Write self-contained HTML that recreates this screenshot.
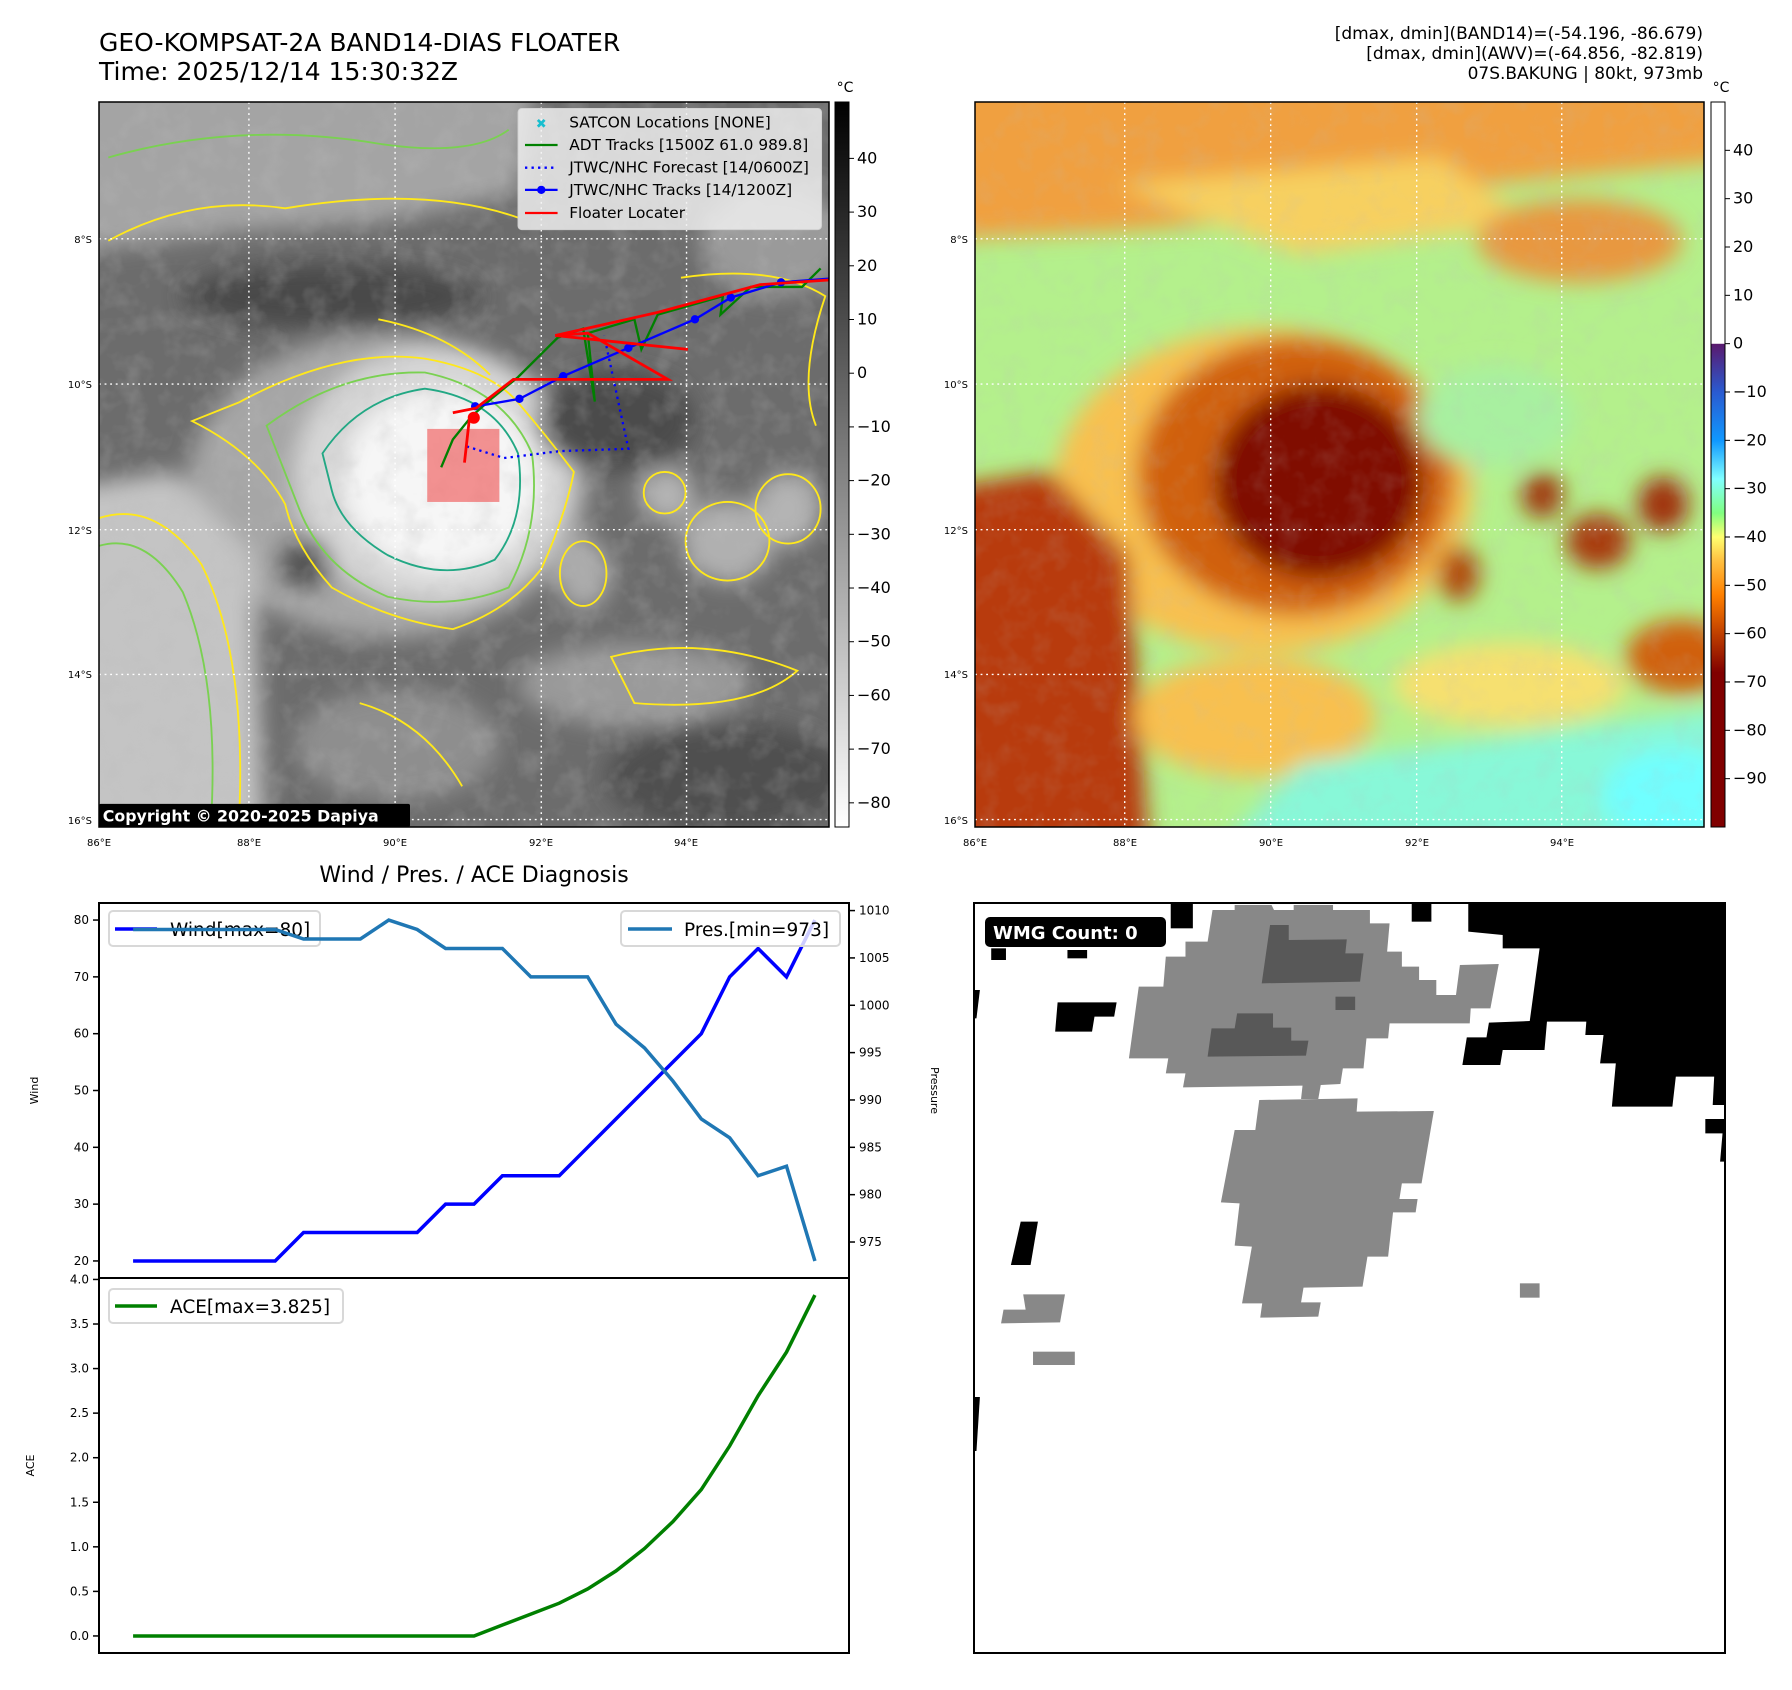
<!DOCTYPE html>
<html><head><meta charset="utf-8">
<style>
html,body{margin:0;padding:0;background:#fff;}
svg{display:block;font-family:"DejaVu Sans","Liberation Sans",sans-serif;}
</style></head>
<body>
<svg id="root" xmlns="http://www.w3.org/2000/svg" width="1792" height="1690" viewBox="0 0 1792 1690">
<defs>
  <filter id="blur" x="-30%" y="-30%" width="160%" height="160%"><feGaussianBlur stdDeviation="24"/></filter>
  <filter id="noise" x="0" y="0" width="100%" height="100%">
    <feTurbulence type="fractalNoise" baseFrequency="0.02" numOctaves="3" seed="4"/>
    <feColorMatrix type="matrix" values="0 0 0 0 0.5  0 0 0 0 0.5  0 0 0 0 0.5  0 0 0 1.6 -0.7"/>
  </filter>
  <clipPath id="clipL"><rect x="0" y="0" width="1568" height="1568"/></clipPath>
  <linearGradient id="cbGray" x1="0" y1="0" x2="0" y2="1">
    <stop offset="0" stop-color="#000"/><stop offset="1" stop-color="#fff"/>
  </linearGradient>
  <linearGradient id="cbColor" x1="0" y1="0" x2="0" y2="1">
    <stop offset="0" stop-color="#fff"/><stop offset="0.333" stop-color="#fff"/>
    <stop offset="0.334" stop-color="#5a1a6e"/><stop offset="0.40" stop-color="#2a5ad0"/>
    <stop offset="0.467" stop-color="#1098ff"/><stop offset="0.52" stop-color="#80ffff"/>
    <stop offset="0.567" stop-color="#80ff80"/><stop offset="0.60" stop-color="#ffff70"/>
    <stop offset="0.633" stop-color="#ffc040"/><stop offset="0.68" stop-color="#ff8000"/>
    <stop offset="0.733" stop-color="#c04000"/><stop offset="0.787" stop-color="#800000"/>
    <stop offset="1" stop-color="#800000"/>
  </linearGradient>
</defs>

<!-- titles -->
<text x="99" y="51" font-size="25" fill="#000">GEO-KOMPSAT-2A BAND14-DIAS FLOATER</text>
<text x="99" y="80" font-size="25" fill="#000">Time: 2025/12/14 15:30:32Z</text>
<g font-size="17" text-anchor="end" fill="#000">
  <text x="1703" y="39">[dmax, dmin](BAND14)=(-54.196, -86.679)</text>
  <text x="1703" y="59">[dmax, dmin](AWV)=(-64.856, -82.819)</text>
  <text x="1703" y="79">07S.BAKUNG | 80kt, 973mb</text>
</g>

<!-- LEFT MAP -->
<g>
<svg x="99" y="102" width="730" height="725" viewBox="0 0 1568 1568" preserveAspectRatio="none">
  <rect width="1568" height="1568" fill="#6c6c6c"/>
  <g filter="url(#blur)" clip-path="url(#clipL)">
    <path d="M-100,-100 L950,-100 L900,200 L600,260 L300,280 L-100,330 Z" fill="#a4a4a4"/>
    <ellipse cx="500" cy="420" rx="320" ry="70" fill="#4a4a4a"/>
    <ellipse cx="620" cy="830" rx="430" ry="330" fill="#a6a6a6"/>
    <path d="M-100,840 L160,800 L330,980 L360,1700 L-100,1700 Z" fill="#c4c4c4"/>
    <ellipse cx="720" cy="810" rx="300" ry="280" fill="#d6d6d6"/>
    <ellipse cx="735" cy="820" rx="210" ry="195" fill="#f6f6f6"/>
    <ellipse cx="1110" cy="690" rx="170" ry="110" fill="#4c4c4c"/>
    <ellipse cx="1220" cy="850" rx="60" ry="60" fill="#b4b4b4"/>
    <ellipse cx="1350" cy="950" rx="100" ry="90" fill="#b0b0b0"/>
    <ellipse cx="1480" cy="880" rx="70" ry="80" fill="#b4b4b4"/>
    <ellipse cx="1040" cy="1020" rx="60" ry="80" fill="#acacac"/>
    <ellipse cx="1150" cy="1260" rx="250" ry="90" fill="#9a9a9a"/>
    <ellipse cx="640" cy="1390" rx="220" ry="120" fill="#8e8e8e"/>
    <ellipse cx="1350" cy="1460" rx="260" ry="120" fill="#505050"/>
    <ellipse cx="440" cy="1000" rx="60" ry="60" fill="#555"/>
    <ellipse cx="1450" cy="300" rx="160" ry="120" fill="#9a9a9a"/>
  </g>
  <rect width="1568" height="1568" filter="url(#noise)" opacity="0.35"/>
  <g fill="none" stroke-width="4">
    <path d="M300,650 Q520,530 700,555 Q840,580 900,650 Q960,720 1020,800 Q1000,900 950,1010 Q880,1100 760,1140 Q620,1120 500,1050 Q420,960 400,870 Q340,760 200,690 Z" stroke="#ffe81a"/>
    <path d="M360,700 Q520,580 700,585 Q870,620 930,760 Q950,920 880,1050 Q760,1100 620,1070 Q480,1010 430,880 Z" stroke="#7ad151"/>
    <path d="M480,760 Q560,640 700,620 Q850,640 900,760 Q920,900 850,990 Q740,1040 620,980 Q520,920 500,840 Z" stroke="#22a884"/>
    <path d="M0,900 Q120,860 220,1000 Q320,1200 300,1568" stroke="#ffe81a"/>
    <path d="M0,960 Q100,930 180,1060 Q260,1250 240,1568" stroke="#7ad151"/>
    <path d="M20,300 Q200,200 400,230 Q700,180 900,250" stroke="#ffe81a"/>
    <path d="M20,120 Q300,40 600,90 Q800,120 880,60" stroke="#7ad151"/>
    <path d="M600,470 Q750,500 840,590" stroke="#ffe81a"/>
    <ellipse cx="1215" cy="845" rx="45" ry="45" stroke="#ffe81a"/>
    <ellipse cx="1350" cy="950" rx="90" ry="85" stroke="#ffe81a"/>
    <ellipse cx="1480" cy="880" rx="70" ry="75" stroke="#ffe81a"/>
    <ellipse cx="1040" cy="1020" rx="50" ry="70" stroke="#ffe81a"/>
    <path d="M1100,1200 Q1300,1150 1500,1230 Q1400,1320 1150,1300 Z" stroke="#ffe81a"/>
    <path d="M560,1300 Q700,1340 780,1480" stroke="#ffe81a"/>
    <path d="M1250,380 Q1450,350 1560,420 Q1500,600 1540,700" stroke="#ffe81a"/>
  </g>
  <g stroke="#fff" stroke-width="3" stroke-dasharray="4 8">
    <line x1="322" y1="0" x2="322" y2="1568"/><line x1="636" y1="0" x2="636" y2="1568"/>
    <line x1="950" y1="0" x2="950" y2="1568"/><line x1="1262" y1="0" x2="1262" y2="1568"/>
    <line x1="0" y1="296" x2="1568" y2="296"/><line x1="0" y1="610" x2="1568" y2="610"/>
    <line x1="0" y1="925" x2="1568" y2="925"/><line x1="0" y1="1238" x2="1568" y2="1238"/>
    <line x1="0" y1="1552" x2="1568" y2="1552"/>
  </g>
  <rect x="705" y="707" width="155" height="158" fill="#f06a6a" fill-opacity="0.72"/>
  <polyline points="735,790 760,730 800,680 845,640 900,595 985,510 1040,490 1065,648 1050,500 1150,470 1165,535 1200,460 1340,420 1335,460 1400,400 1510,400 1550,360" fill="none" stroke="#008000" stroke-width="5"/>
  <polyline points="790,745 870,770 990,755 1137,750 1085,505" fill="none" stroke="#0000ff" stroke-width="5" stroke-dasharray="5 9"/>
  <g>
    <polyline points="800,660 903,642 997,593 1137,532 1280,470 1357,423 1465,390 1568,382" fill="none" stroke="#0000ff" stroke-width="5"/>
    <g fill="#0000ff"><circle cx="903" cy="642" r="9"/><circle cx="997" cy="593" r="9"/><circle cx="1137" cy="532" r="9"/><circle cx="1280" cy="470" r="9"/><circle cx="1357" cy="423" r="9"/><circle cx="1465" cy="390" r="9"/><circle cx="808" cy="658" r="9"/></g>
  </g>
  <g fill="none" stroke="#ff0000" stroke-width="6">
    <polyline points="760,672 810,662 890,600 1222,600 1050,500 980,505 1265,535"/>
    <polyline points="980,505 1200,455 1420,395 1568,385"/>
    <polyline points="785,780 795,690 815,675"/>
    <circle cx="805" cy="683" r="10" fill="#ff0000"/>
  </g>
  <g>
    <rect x="900" y="14" width="652" height="262" rx="8" fill="#f2f2f2" fill-opacity="0.82" stroke="#d0d0d0" stroke-width="2"/>
    <g font-size="33" fill="#000">
      <text x="1010" y="55">SATCON Locations [NONE]</text>
      <text x="1010" y="104">ADT Tracks [1500Z 61.0 989.8]</text>
      <text x="1010" y="153">JTWC/NHC Forecast [14/0600Z]</text>
      <text x="1010" y="201">JTWC/NHC Tracks [14/1200Z]</text>
      <text x="1010" y="251">Floater Locater</text>
    </g>
    <text x="950" y="56" font-size="28" fill="#17becf" text-anchor="middle" font-weight="bold">✖</text>
    <line x1="915" y1="93" x2="985" y2="93" stroke="#008000" stroke-width="5"/>
    <line x1="915" y1="142" x2="985" y2="142" stroke="#0000ff" stroke-width="5" stroke-dasharray="5 9"/>
    <line x1="915" y1="190" x2="985" y2="190" stroke="#0000ff" stroke-width="5"/><circle cx="950" cy="190" r="9" fill="#0000ff"/>
    <line x1="915" y1="240" x2="985" y2="240" stroke="#ff0000" stroke-width="5"/>
  </g>
  <rect x="0" y="1518" width="668" height="50" fill="#000" rx="4"/>
  <text x="8" y="1556" font-size="34" font-weight="bold" fill="#fff">Copyright © 2020-2025 Dapiya</text>
</svg>
<rect x="99" y="102" width="730" height="725" fill="none" stroke="#000" stroke-width="1.5"/>
</g>

<!-- RIGHT MAP -->
<g>
<svg x="975" y="102" width="729" height="725" viewBox="0 0 1568 1568" preserveAspectRatio="none">
  <rect width="1568" height="1568" fill="#b4f08c"/>
  <g filter="url(#blur)" clip-path="url(#clipL)">
    <path d="M-100,-100 L1700,-100 L1700,120 L1100,180 L800,240 L300,280 L-100,300 Z" fill="#f0a040"/>
    <path d="M300,180 L1000,120 L1200,260 L700,330 Z" fill="#f7d060"/>
    <ellipse cx="1300" cy="300" rx="220" ry="90" fill="#e89840"/>
    <ellipse cx="620" cy="840" rx="450" ry="350" fill="#f8c050"/>
    <path d="M-100,840 L160,800 L330,980 L380,1700 L-100,1700 Z" fill="#b83a08"/>
    <ellipse cx="690" cy="810" rx="340" ry="300" fill="#d06010"/>
    <ellipse cx="740" cy="820" rx="225" ry="210" fill="#800800"/>
    <ellipse cx="1120" cy="680" rx="170" ry="110" fill="#a8f0a0"/>
    <ellipse cx="1220" cy="850" rx="45" ry="50" fill="#a03808"/>
    <ellipse cx="1340" cy="950" rx="70" ry="60" fill="#a83a08"/>
    <ellipse cx="1480" cy="870" rx="55" ry="60" fill="#a03008"/>
    <ellipse cx="1040" cy="1020" rx="45" ry="60" fill="#b04810"/>
    <ellipse cx="1150" cy="1260" rx="250" ry="90" fill="#f6e070"/>
    <ellipse cx="600" cy="1330" rx="260" ry="130" fill="#f8c050"/>
    <path d="M450,1700 L700,1430 L1100,1380 L1700,1300 L1700,1700 Z" fill="#88f8d8"/>
    <ellipse cx="1500" cy="1500" rx="150" ry="100" fill="#70ffff"/>
    <ellipse cx="1520" cy="1200" rx="120" ry="80" fill="#d06010"/>
  </g>
  <rect width="1568" height="1568" filter="url(#noise)" opacity="0.2"/>
  <g stroke="#fff" stroke-width="3" stroke-dasharray="4 8">
    <line x1="322" y1="0" x2="322" y2="1568"/><line x1="636" y1="0" x2="636" y2="1568"/>
    <line x1="950" y1="0" x2="950" y2="1568"/><line x1="1262" y1="0" x2="1262" y2="1568"/>
    <line x1="0" y1="296" x2="1568" y2="296"/><line x1="0" y1="610" x2="1568" y2="610"/>
    <line x1="0" y1="925" x2="1568" y2="925"/><line x1="0" y1="1238" x2="1568" y2="1238"/>
    <line x1="0" y1="1552" x2="1568" y2="1552"/>
  </g>
</svg>
<rect x="975" y="102" width="729" height="725" fill="none" stroke="#000" stroke-width="1.5"/>
</g>

<!-- colorbars -->
<g>
  <rect x="835" y="102" width="14" height="725" fill="url(#cbGray)" stroke="#000" stroke-width="1"/>
  <text x="845" y="92" font-size="14" text-anchor="middle">°C</text>
  <g id="cbLticks" font-size="16"></g>
</g>
<g>
  <rect x="1711" y="102" width="14" height="725" fill="url(#cbColor)" stroke="#000" stroke-width="1"/>
  <text x="1721" y="92" font-size="14" text-anchor="middle">°C</text>
  <g id="cbRticks" font-size="16"></g>
</g>
<g id="mapticks" font-size="10" fill="#000"></g>

<!-- charts -->
<text x="474" y="882" font-size="22" text-anchor="middle">Wind / Pres. / ACE Diagnosis</text>
<g id="charts"></g>

<!-- WMG -->
<g>
<svg x="974" y="903" width="751" height="750" viewBox="10 24 1527 2250" preserveAspectRatio="none">
  <rect x="10" y="24" width="1527" height="2250" fill="#fff"/>
  <polygon fill="#000" points="1015,24 1537,24 1537,630 1512,630 1515,545 1437,545 1430,635 1307,635 1315,505 1283,505 1290,420 1253,420 1255,380 1175,380 1170,465 1085,465 1080,510 1003,510 1012,427 1052,427 1057,383 1140,378 1160,160 1085,160 1085,120 1015,110"/>
  <polygon fill="#000" points="1497,672 1537,672 1537,800 1527,800 1532,715 1497,715"/>
  <g fill="#000">
    <rect x="900" y="24" width="40" height="56"/><rect x="410" y="24" width="45" height="76"/>
    <rect x="45" y="160" width="30" height="35"/><rect x="200" y="165" width="40" height="25"/>
    <polygon points="180,322 300,322 295,365 255,365 250,410 175,410"/>
    <polygon points="105,980 140,980 125,1110 85,1110"/>
    <polygon points="10,285 22,285 15,370 10,370"/>
    <polygon points="10,1506 22,1506 15,1668 10,1668"/>
  </g>
  <polygon fill="#888" points="540,30 615,30 620,45 660,45 660,30 740,30 740,45 815,45 815,85 855,85 850,170 880,170 880,215 915,215 915,255 950,255 950,300 990,300 998,210 1077,207 1060,340 1020,340 1018,385 855,385 852,430 808,430 802,520 760,520 755,567 715,570 710,612 675,612 678,572 435,577 440,535 400,535 405,490 325,490 345,275 395,275 400,185 440,185 440,140 485,140 495,45 540,45"/>
  <polygon fill="#888" points="590,615 790,610 788,650 945,648 920,865 880,865 875,912 912,912 908,952 862,952 852,1085 810,1085 800,1175 680,1178 675,1222 715,1222 710,1265 592,1268 596,1225 555,1225 575,1055 540,1052 550,925 512,922 540,705 582,705"/>
  <polygon fill="#585858" points="612,90 650,90 650,135 768,133 765,175 802,175 795,260 595,265"/>
  <polygon fill="#585858" points="545,355 618,355 618,398 655,398 655,437 690,437 685,482 485,485 493,400 540,400"/>
  <rect x="745" y="305" width="40" height="40" fill="#585858"/>
  <rect x="1120" y="1165" width="40" height="43" fill="#888"/>
  <polygon fill="#888" points="110,1198 195,1198 185,1282 65,1285 70,1244 115,1244"/>
  <rect x="130" y="1370" width="85" height="40" fill="#888"/>
</svg>
<rect x="974" y="903" width="751" height="750" fill="none" stroke="#000" stroke-width="2"/>
<rect x="985" y="917" width="181" height="30" rx="5" fill="#000"/>
<text x="993" y="939" font-size="18" font-weight="bold" fill="#fff">WMG Count: 0</text>
</g>
</svg>

<script>
// ---- chart data ----
const windValues = [20,20,20,20,20,20,25,25,25,25,25,30,30,35,35,35,40,45,50,55,60,70,75,70,80];
const pressureValues = [1008,1008,1008,1008,1008,1008,1007,1007,1007,1009,1008,1006,1006,1006,1003,1003,1003,998,995.5,992,988,986,982,983,973];
const aceValues = [0,0,0,0,0,0,0,0,0,0,0,0,0,0.1225,0.245,0.3675,0.5275,0.73,0.98,1.2825,1.6425,2.1325,2.695,3.185,3.825];
const windTicks = [20,30,40,50,60,70,80];
const pressureTicks = [975,980,985,990,995,1000,1005,1010];
const aceTicks = ["0.0","0.5","1.0","1.5","2.0","2.5","3.0","3.5","4.0"];
const irColorbarTicks = [40,30,20,10,0,-10,-20,-30,-40,-50,-60,-70,-80];
const awvColorbarTicks = [40,30,20,10,0,-10,-20,-30,-40,-50,-60,-70,-80,-90];
const lonLabels = ["86°E","88°E","90°E","92°E","94°E"];
const latLabels = ["8°S","10°S","12°S","14°S","16°S"];

const NS = "http://www.w3.org/2000/svg";
function mk(tag, attrs, parent){const e=document.createElementNS(NS,tag);for(const k in attrs)e.setAttribute(k,attrs[k]);parent.appendChild(e);return e;}
function minus(v){return String(v).replace("-","\u2212");}

const AX = {x0:99, x1:849};
const WIN = {y0:903, y1:1278};
const ACEB = {y0:1278, y1:1653};
function range(arr){const mn=Math.min(...arr),mx=Math.max(...arr),p=(mx-mn)*0.05;return [mn-p,mx+p];}
const n = windValues.length;
function xs(i){const lo=-(n-1)*0.05, hi=(n-1)*1.05;return AX.x0+(i-lo)/(hi-lo)*(AX.x1-AX.x0);}
const wr = range(windValues), pr = range(pressureValues), ar = range(aceValues);
function yW(v){return WIN.y1-(v-wr[0])/(wr[1]-wr[0])*(WIN.y1-WIN.y0);}
function yP(v){return WIN.y1-(v-pr[0])/(pr[1]-pr[0])*(WIN.y1-WIN.y0);}
function yA(v){return ACEB.y1-(v-ar[0])/(ar[1]-ar[0])*(ACEB.y1-ACEB.y0);}

const charts = document.getElementById("charts");
const wg = mk("g",{},charts);


const pl = mk("polyline",{points:pressureValues.map((v,i)=>xs(i)+","+yP(v)).join(" "),fill:"none",stroke:"#1f77b4","stroke-width":3.5},wg);


const wl = mk("polyline",{points:windValues.map((v,i)=>xs(i)+","+yW(v)).join(" "),fill:"none",stroke:"#0000ff","stroke-width":3.5},wg);


mk("rect",{x:AX.x0,y:WIN.y0,width:AX.x1-AX.x0,height:WIN.y1-WIN.y0,fill:"none",stroke:"#000","stroke-width":2},wg);
windTicks.forEach(t=>{const y=yW(t);mk("line",{x1:AX.x0-6,x2:AX.x0,y1:y,y2:y,stroke:"#000","stroke-width":1.5},wg);
  const tx=mk("text",{x:AX.x0-10,y:y+4,"font-size":12,"text-anchor":"end"},wg);tx.textContent=t;
  
  });
pressureTicks.forEach(t=>{const y=yP(t);mk("line",{x1:AX.x1,x2:AX.x1+6,y1:y,y2:y,stroke:"#000","stroke-width":1.5},wg);
  const tx=mk("text",{x:AX.x1+10,y:y+4,"font-size":12},wg);tx.textContent=t;
  
  });
const wlab = mk("text",{x:38,y:(WIN.y0+WIN.y1)/2,"font-size":11,"text-anchor":"middle",transform:`rotate(-90 38 ${(WIN.y0+WIN.y1)/2})`},wg);wlab.textContent="Wind";


const plab = mk("text",{x:931,y:(WIN.y0+WIN.y1)/2,"font-size":11,"text-anchor":"middle",transform:`rotate(90 931 ${(WIN.y0+WIN.y1)/2})`},wg);plab.textContent="Pressure";


const lw = mk("g",{},wg);


mk("rect",{x:109,y:911,width:211,height:35,rx:4,fill:"#fff","fill-opacity":0.8,stroke:"#d8d8d8","stroke-width":2},lw);
mk("line",{x1:115,x2:157,y1:929,y2:929,stroke:"#0000ff","stroke-width":3.5},lw);
const lwt=mk("text",{x:170,y:936,"font-size":18.5},lw);lwt.textContent="Wind[max=80]";
const lp = mk("g",{},wg);


mk("rect",{x:621,y:911,width:219,height:35,rx:4,fill:"#fff","fill-opacity":0.8,stroke:"#d8d8d8","stroke-width":2},lp);
mk("line",{x1:628,x2:672,y1:929,y2:929,stroke:"#1f77b4","stroke-width":3.5},lp);
const lpt=mk("text",{x:684,y:936,"font-size":18.5},lp);lpt.textContent="Pres.[min=973]";
wg.appendChild(pl);

const ag = mk("g",{},charts);


const al = mk("polyline",{points:aceValues.map((v,i)=>xs(i)+","+yA(v)).join(" "),fill:"none",stroke:"#008000","stroke-width":3.5},ag);


mk("rect",{x:AX.x0,y:ACEB.y0,width:AX.x1-AX.x0,height:ACEB.y1-ACEB.y0,fill:"none",stroke:"#000","stroke-width":2},ag);
aceTicks.forEach(t=>{const y=yA(parseFloat(t));mk("line",{x1:AX.x0-6,x2:AX.x0,y1:y,y2:y,stroke:"#000","stroke-width":1.5},ag);
  const tx=mk("text",{x:AX.x0-10,y:y+4,"font-size":12,"text-anchor":"end"},ag);tx.textContent=t;
  
  });
const alab = mk("text",{x:34,y:(ACEB.y0+ACEB.y1)/2,"font-size":11,"text-anchor":"middle",transform:`rotate(-90 34 ${(ACEB.y0+ACEB.y1)/2})`},ag);alab.textContent="ACE";


const la = mk("g",{},ag);


mk("rect",{x:109,y:1289,width:234,height:34,rx:4,fill:"#fff","fill-opacity":0.8,stroke:"#d8d8d8","stroke-width":2},la);
mk("line",{x1:115,x2:157,y1:1306,y2:1306,stroke:"#008000","stroke-width":3.5},la);
const lat=mk("text",{x:170,y:1313,"font-size":18.5},la);lat.textContent="ACE[max=3.825]";

const cbl=document.getElementById("cbLticks");
irColorbarTicks.forEach(v=>{const y=102+(50.5-v)/135*725;
  mk("line",{x1:849,x2:854,y1:y,y2:y,stroke:"#000"},cbl);
  const t=mk("text",{x:857,y:y+5},cbl);t.textContent=minus(v);
  
  });
const cbr=document.getElementById("cbRticks");
awvColorbarTicks.forEach(v=>{const y=102+(50-v)/150*725;
  mk("line",{x1:1725,x2:1730,y1:y,y2:y,stroke:"#000"},cbr);
  const t=mk("text",{x:1733,y:y+5},cbr);t.textContent=minus(v);
  
  });

const mt=document.getElementById("mapticks");
const lonX=[99,249,395,541,686], latY=[239,384,530,674,820];
[0,876].forEach(off=>{
  lonLabels.forEach((s,i)=>{const t=mk("text",{x:lonX[i]+off,y:846,"text-anchor":"middle"},mt);t.textContent=s;
    
    });
  latLabels.forEach((s,i)=>{const t=mk("text",{x:92+off,y:latY[i]+4,"text-anchor":"end"},mt);t.textContent=s;
    
    });
});
</script>
</body></html>
